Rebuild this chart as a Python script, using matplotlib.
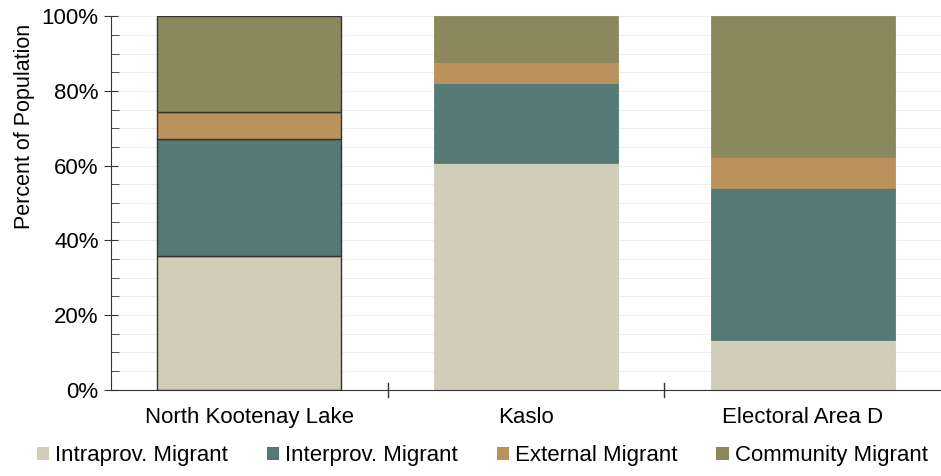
import matplotlib.pyplot as plt
import numpy as np
from matplotlib.patches import Patch
from matplotlib.ticker import MultipleLocator, PercentFormatter

plt.rcParams['font.family'] = ['Liberation Sans', 'DejaVu Sans']

# 地区
regions = ['North Kootenay Lake', 'Kaslo', 'Electoral Area D']

# 各类迁移人口占比 (%)
intraprov = [35.8, 60.7, 13.4]
interprov = [31.3, 21.4, 40.6]
external = [7.2, 5.6, 8.3]
community = [25.7, 12.3, 37.7]

series = [
    ('Intraprov. Migrant', intraprov, '#D0CEB8'),
    ('Interprov. Migrant', interprov, '#557975'),
    ('External Migrant', external, '#BA925C'),
    ('Community Migrant', community, '#8B885E'),
]

fig = plt.figure(figsize=(9.41, 4.76), dpi=100)
ax = fig.add_axes([0.118, 0.181, 0.882, 0.785])

x = np.arange(len(regions))
bottom = np.zeros(len(regions))
for name, vals, color in series:
    bars = ax.bar(x, vals, width=0.665, bottom=bottom, color=color,
                  edgecolor=color, linewidth=0.6, zorder=2)
    # 只有第一个柱子带深色边框
    bars[0].set_edgecolor('#333333')
    bars[0].set_linewidth(1.0)
    bottom += np.array(vals)

ax.set_xlim(-0.5, 2.5)
ax.set_ylim(0, 100)
ax.yaxis.set_major_locator(MultipleLocator(20))
ax.yaxis.set_minor_locator(MultipleLocator(5))
ax.yaxis.set_major_formatter(PercentFormatter(decimals=0))
ax.grid(True, which='both', axis='y', color='#EEEEEE', linewidth=0.8, zorder=0)

ax.set_xticks(x)
ax.set_xticklabels(regions, fontsize=16)
ax.tick_params(axis='x', length=0, pad=12)
# 类别分隔刻度
for xb in [0.5, 1.5]:
    ax.plot([xb, xb], [-1.9, 1.9], color='#333333', lw=1, clip_on=False, zorder=3)

ax.tick_params(axis='y', which='major', direction='inout', length=10,
               color='#333333', labelsize=16, pad=4)
ax.tick_params(axis='y', which='minor', direction='in', length=6, color='#333333')

for s in ['top', 'right']:
    ax.spines[s].set_visible(False)
ax.spines['left'].set_color('#333333')
ax.spines['bottom'].set_color('#333333')

ax.set_ylabel('Percent of Population', fontsize=15.5)
ax.yaxis.set_label_coords(-0.092, 0.706)

handles = [Patch(facecolor=c, edgecolor='none', label=n) for n, _, c in series]
fig.legend(handles=handles, loc='center left', bbox_to_anchor=(37 / 941, 1 - 456 / 476),
           ncol=4, frameon=False, fontsize=16, handlelength=0.55, handleheight=0.55,
           handletextpad=0.27, columnspacing=1.75, borderpad=0, borderaxespad=0)

plt.savefig('out.png', dpi=100)
